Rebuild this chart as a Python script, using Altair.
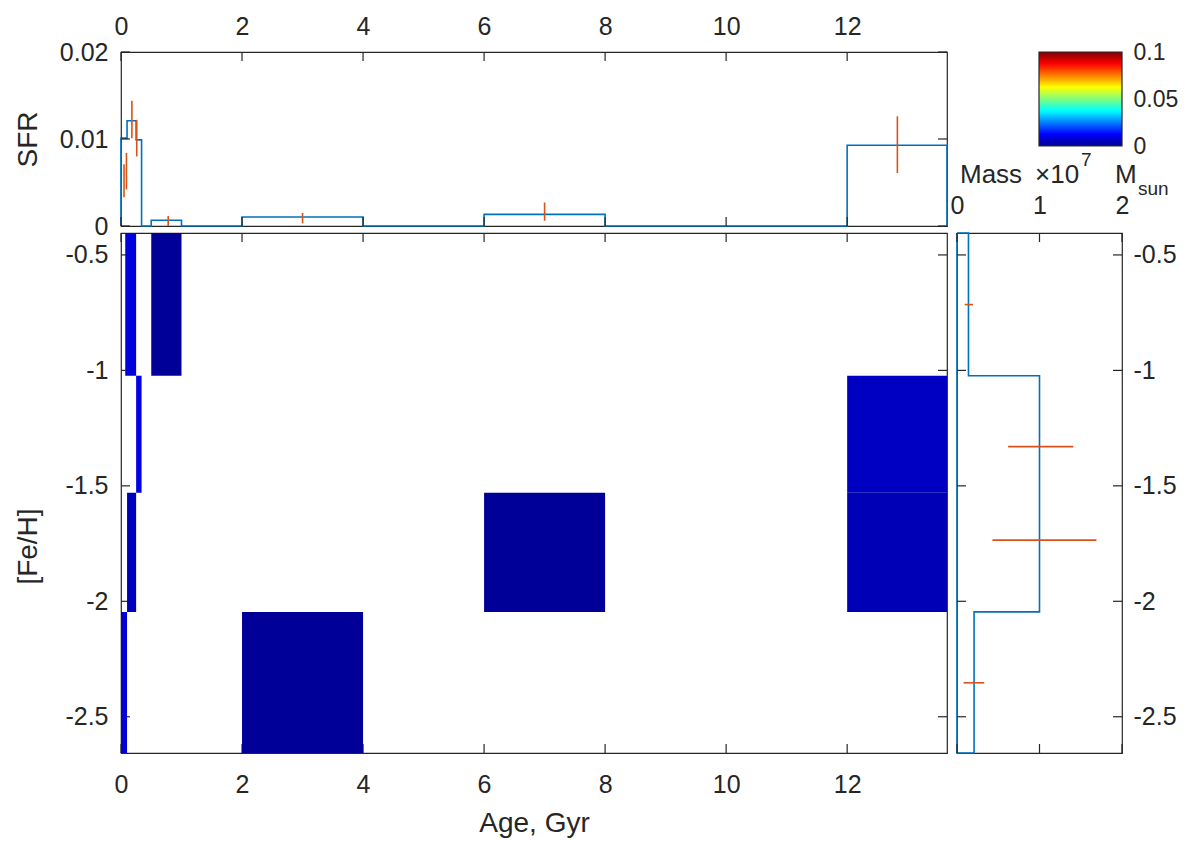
import altair as alt
import pandas as pd

FONT = "Liberation Sans"
AX = "#262626"
LINE = "#0072BD"
ERR = "#D95319"

# ---------------- data ----------------
# Top panel: SFR histogram, age bins (Gyr)
sfr_age_lo = [0.0, 0.1, 0.25, 0.5, 2.0, 6.0, 12.0]
sfr_age_hi = [0.1, 0.25, 0.34, 1.0, 4.0, 8.0, 13.65]
sfr_value = [0.0101, 0.0121, 0.0099, 0.00066, 0.00103, 0.00134, 0.00928]
# SFR error bars
sfr_err_age = [0.05, 0.09, 0.18, 0.26, 0.78, 3.0, 7.0, 12.83]
sfr_err_lo = [0.0033, 0.0042, 0.0101, 0.0080, 0.0, 0.0003, 0.0006, 0.0061]
sfr_err_hi = [0.0071, 0.0084, 0.0144, 0.0122, 0.00115, 0.0015, 0.0027, 0.0126]

# Main panel: age-metallicity cells, mass (x 10^7 Msun)
cell_age_lo = [0.0, 0.1, 0.25, 0.07, 0.5, 2.0, 6.0, 12.0, 12.0]
cell_age_hi = [0.1, 0.25, 0.34, 0.25, 1.0, 4.0, 8.0, 13.65, 13.65]
cell_feh_lo = [-2.657, -2.046, -1.53, -1.023, -1.023, -2.657, -2.046, -1.53, -2.046]
cell_feh_hi = [-2.046, -1.53, -1.023, -0.405, -0.405, -2.046, -1.53, -1.023, -1.53]
cell_mass = [0.0075, 0.0051, 0.0100, 0.0087, 0.0012, 0.0012, 0.0012, 0.0060, 0.0045]

# Right panel: mass per [Fe/H] bin
feh_edges = [-2.657, -2.046, -1.53, -1.023, -0.405]
mass_value = [0.207, 1.0, 1.0, 0.139]
mass_err_feh = [-2.353, -1.735, -1.33, -0.715]
mass_err_lo = [0.08, 0.43, 0.62, 0.094]
mass_err_hi = [0.33, 1.69, 1.41, 0.195]

age_ticks = [0, 2, 4, 6, 8, 10, 12]
feh_ticks = [-2.5, -2.0, -1.5, -1.0, -0.5]
sfr_ticks = [0, 0.01, 0.02]
mass_ticks = [0, 1, 2]
cbar_ticks = [0, 0.05, 0.1]

AGE_MAX = 13.65
FEH_MIN, FEH_MAX = -2.657, -0.405

jet_domain = [0, 0.0125, 0.0375, 0.0625, 0.0875, 0.1]
jet_range = ["#00008F", "#0000FF", "#00FFFF", "#FFFF00", "#FF0000", "#800000"]

# ---------------- layout ----------------
W_MAIN, H_MAIN = 826, 520
H_TOP = 174
W_RIGHT = 165
H_CB = 94
TL = 9  # inside tick length

NEG = "datum.value < 0 ? '-' + format(-datum.value, '~g') : format(datum.value, '~g')"

xs = alt.Scale(domain=[0, AGE_MAX], nice=False, zero=False)
sfr_s = alt.Scale(domain=[0, 0.02], nice=False, zero=False)
feh_s = alt.Scale(domain=[FEH_MIN, FEH_MAX], nice=False, zero=False)
mass_s = alt.Scale(domain=[0, 2], nice=False, zero=False)
jet = alt.Scale(domain=jet_domain, range=jet_range, clamp=True)

# axes (the same object is reused by every layer of a panel)
ax_top_x = alt.Axis(orient="top", values=age_ticks, labelPadding=13, title=None, labelExpr=NEG)
ax_top_y = alt.Axis(orient="left", values=sfr_ticks, labelPadding=13, title="SFR", titleX=-93,
                    titleY=H_TOP / 2, titleBaseline="middle", titleAlign="center", labelExpr=NEG)
ax_main_x = alt.Axis(orient="bottom", values=age_ticks, labelPadding=19, title="Age, Gyr", titleY=70,
                     titleBaseline="middle", labelExpr=NEG)
ax_main_y = alt.Axis(orient="left", values=feh_ticks, labelPadding=13, title="[Fe/H]", titleX=-93,
                     titleY=313, titleBaseline="middle", titleAlign="center", labelExpr=NEG)
ax_r_x = alt.Axis(orient="top", values=mass_ticks, labelPadding=15, title=None, labelExpr=NEG)
ax_r_y = alt.Axis(orient="right", values=feh_ticks, labelPadding=11, title=None, labelExpr=NEG)


def tick_layers(xvals, xscale, xaxis, yvals, yscale, yaxis, W, H):
    out = []
    dx = pd.DataFrame({"v": xvals})
    for y0, y1 in [(0, TL), (H - TL, H)]:
        out.append(alt.Chart(dx).mark_rule(color=AX, strokeWidth=1.2).encode(
            x=alt.X("v:Q", scale=xscale, axis=xaxis),
            y=alt.value(y0), y2=alt.value(y1)))
    dy = pd.DataFrame({"v": yvals})
    for x0, x1 in [(0, TL), (W - TL, W)]:
        out.append(alt.Chart(dy).mark_rule(color=AX, strokeWidth=1.2).encode(
            y=alt.Y("v:Q", scale=yscale, axis=yaxis),
            x=alt.value(x0), x2=alt.value(x1)))
    return out


# ---- top panel: SFR stairs ----
pts = [(sfr_age_lo[0], 0.0)]
for i, (a, b, v) in enumerate(zip(sfr_age_lo, sfr_age_hi, sfr_value)):
    if a > pts[-1][0]:
        pts.append((a, 0.0))
    pts.append((a, v))
    pts.append((b, v))
    nxt = sfr_age_lo[i + 1] if i + 1 < len(sfr_age_lo) else None
    if nxt is None or nxt > b:
        pts.append((b, 0.0))
stairs = pd.DataFrame({"i": range(len(pts)), "age": [p[0] for p in pts], "sfr": [p[1] for p in pts]})

top_line = alt.Chart(stairs).mark_line(color=LINE, strokeWidth=1.6).encode(
    x=alt.X("age:Q", scale=xs, axis=ax_top_x),
    y=alt.Y("sfr:Q", scale=sfr_s, axis=ax_top_y),
    order="i:Q",
)
sfr_err = pd.DataFrame({"age": sfr_err_age, "lo": sfr_err_lo, "hi": sfr_err_hi})
top_err = alt.Chart(sfr_err).mark_rule(color=ERR, strokeWidth=1.6).encode(
    x=alt.X("age:Q", scale=xs, axis=ax_top_x),
    y=alt.Y("lo:Q", scale=sfr_s, axis=ax_top_y),
    y2="hi:Q",
)
top = alt.layer(top_line, top_err,
                *tick_layers(age_ticks, xs, ax_top_x, sfr_ticks, sfr_s, ax_top_y, W_MAIN, H_TOP)
                ).properties(width=W_MAIN, height=H_TOP)

# ---- colorbar + mass label ----
cb_df = pd.DataFrame({"lo": [cbar_ticks[0]], "hi": [cbar_ticks[-1]]})
offs = [d / jet_domain[-1] for d in jet_domain]
grad = alt.LinearGradient(gradient="linear",
                          stops=[alt.GradientStop(offset=o, color=c) for o, c in zip(offs, jet_range)],
                          x1=0, x2=0, y1=1, y2=0)
cb_rect = alt.Chart(cb_df).mark_rect(fill=grad, stroke=AX, strokeWidth=1.2).encode(
    x=alt.value(82), x2=alt.value(W_RIGHT),
    y=alt.Y("lo:Q", scale=alt.Scale(domain=[0, 0.1], nice=False, zero=False),
            axis=alt.Axis(orient="right", values=cbar_ticks, labelPadding=11, labelFontSize=23,
                          title=None, labelExpr="datum.value == 0 ? '0' : format(datum.value, '~g')")),
    y2="hi:Q",
)


def txt(s, x, y, size):
    return alt.Chart(cb_df).mark_text(text=s, font=FONT, fontSize=size, color=AX, align="left",
                                      baseline="alphabetic").encode(x=alt.value(x), y=alt.value(y))


cb = alt.layer(
    cb_rect,
    txt("Mass", 3, 131, 26),
    txt("\u00d710", 78, 131, 26),
    txt("7", 124, 114, 19),
    txt("M", 158, 131, 26),
    txt("sun", 181, 143, 19),
).properties(width=W_RIGHT, height=H_CB, view=alt.ViewBackground(stroke="transparent"))

# ---- main panel ----
cells = pd.DataFrame({"lo": cell_age_lo, "hi": cell_age_hi, "flo": cell_feh_lo,
                      "fhi": cell_feh_hi, "mass": cell_mass})
main_rect = alt.Chart(cells).mark_rect().encode(
    x=alt.X("lo:Q", scale=xs, axis=ax_main_x),
    x2="hi:Q",
    y=alt.Y("flo:Q", scale=feh_s, axis=ax_main_y),
    y2="fhi:Q",
    color=alt.Color("mass:Q", scale=jet, legend=None),
)
main = alt.layer(*tick_layers(age_ticks, xs, ax_main_x, feh_ticks, feh_s, ax_main_y, W_MAIN, H_MAIN),
                 main_rect).properties(width=W_MAIN, height=H_MAIN)

# ---- right panel: mass stairs ----
rp = [(0.0, feh_edges[-1])]
for i in reversed(range(len(mass_value))):
    rp.append((mass_value[i], feh_edges[i + 1]))
    rp.append((mass_value[i], feh_edges[i]))
rp.append((0.0, feh_edges[0]))
rp.append((0.0, feh_edges[-1]))
rstairs = pd.DataFrame({"i": range(len(rp)), "m": [p[0] for p in rp], "feh": [p[1] for p in rp]})

right_line = alt.Chart(rstairs).mark_line(color=LINE, strokeWidth=1.6).encode(
    x=alt.X("m:Q", scale=mass_s, axis=ax_r_x),
    y=alt.Y("feh:Q", scale=feh_s, axis=ax_r_y),
    order="i:Q",
)
merr = pd.DataFrame({"feh": mass_err_feh, "lo": mass_err_lo, "hi": mass_err_hi})
right_err = alt.Chart(merr).mark_rule(color=ERR, strokeWidth=1.6).encode(
    y=alt.Y("feh:Q", scale=feh_s, axis=ax_r_y),
    x=alt.X("lo:Q", scale=mass_s, axis=ax_r_x),
    x2="hi:Q",
)
right = alt.layer(right_line, right_err,
                  *tick_layers(mass_ticks, mass_s, ax_r_x, feh_ticks, feh_s, ax_r_y, W_RIGHT, H_MAIN)
                  ).properties(width=W_RIGHT, height=H_MAIN)

chart = alt.concat(
    top, cb, main, right,
    columns=2, spacing={"row": 7, "column": 10}, bounds="flush", align="each",
).properties(
    padding={"left": 5, "top": 5, "right": 2, "bottom": 5}, background="white"
).configure_view(
    stroke=AX, strokeWidth=1.2
).configure_axis(
    domain=False, ticks=False, tickSize=0, grid=False, labelFlush=False, labelOverlap=False,
    labelFont=FONT, labelColor=AX, labelFontSize=25,
    titleFont=FONT, titleColor=AX, titleFontWeight="normal", titleFontSize=28,
)

chart.save("out.html", embed_options={"renderer": "svg", "actions": False})
